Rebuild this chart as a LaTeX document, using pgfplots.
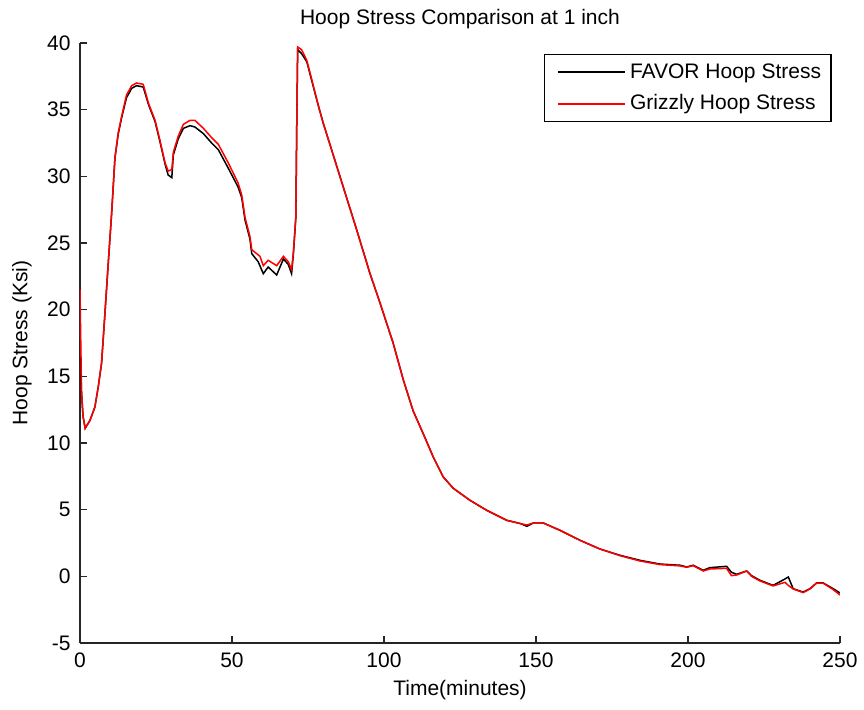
\documentclass[border=0pt]{standalone}
\usepackage{pgfplots}
\pgfplotsset{compat=1.18}
\usepackage{fontspec}
\setmainfont{Liberation Sans}
\definecolor{axgray}{HTML}{262626}

\pgfplotstableread{
x y
0 18.0
0.5 13.8
1.0 12.0
1.7 11.1
3.3 11.7
4.9 12.7
6.0 14.2
7.1 16.0
8.2 19.7
9.3 23.5
10.4 27.2
11.5 31.4
12.6 33.2
13.7 34.4
15.3 35.9
17.0 36.6
18.6 36.8
20.8 36.7
22.5 35.4
24.7 34.1
26.3 32.6
28.0 30.9
29.0 30.1
30.2 29.9
30.7 31.6
32.3 32.8
34.0 33.6
36.2 33.8
37.8 33.7
40.6 33.2
43.3 32.5
45.5 32.0
48.8 30.6
52.0 29.2
53.2 28.4
54.3 26.7
55.9 25.3
56.5 24.2
58.6 23.6
60.3 22.7
61.9 23.2
64.7 22.6
66.9 23.8
68.5 23.4
69.6 22.7
70.2 24.2
71.0 26.9
71.3 33.8
71.6 39.5
72.9 39.2
74.6 38.6
76.2 37.2
78.4 35.3
80.0 34.0
82.2 32.4
84.4 30.8
86.6 29.2
91.0 26.0
95.4 22.7
98.7 20.5
103.0 17.5
106.4 14.7
109.6 12.4
112.9 10.7
116.2 8.95
119.5 7.45
122.8 6.6
128.3 5.7
133.8 4.95
140.4 4.2
145.0 3.95
147.0 3.75
149.1 4.0
152.4 4.0
157.9 3.45
164.5 2.7
171.0 2.05
177.6 1.58
184.2 1.2
190.8 0.92
197.4 0.83
199.6 0.7
201.7 0.83
205.0 0.45
207.2 0.65
212.7 0.75
214.3 0.3
216.0 0.15
219.3 0.4
220.9 0.05
223.7 -0.3
228.0 -0.68
231.9 -0.2
233.0 -0.05
234.6 -0.93
237.9 -1.18
240.1 -0.93
242.3 -0.5
244.5 -0.5
247.8 -0.93
250.0 -1.25
}\favor

\pgfplotstableread{
x y
0 21.5
0.5 13.8
1.0 12.0
1.7 11.1
3.3 11.7
4.9 12.7
6.0 14.2
7.1 16.0
8.2 19.7
9.3 23.5
10.4 27.2
11.5 31.4
12.6 33.3
13.7 34.5
15.3 36.1
17.0 36.8
18.6 37.0
20.8 36.9
22.5 35.5
24.7 34.2
26.3 32.7
28.0 31.0
29.0 30.4
30.2 30.5
30.7 31.8
32.3 33.0
34.0 33.9
36.2 34.2
37.8 34.2
40.6 33.6
43.3 32.9
45.5 32.4
48.8 31.0
52.0 29.5
53.2 28.6
54.3 26.9
55.9 25.5
56.5 24.5
59.2 24.0
60.3 23.3
61.9 23.7
64.7 23.3
66.9 24.0
68.5 23.6
69.6 23.0
70.2 24.3
71.0 27.0
71.3 33.8
71.6 39.7
72.9 39.5
74.6 38.7
76.2 37.3
78.4 35.3
80.0 34.0
82.2 32.4
84.4 30.8
86.6 29.2
91.0 26.0
95.4 22.7
98.7 20.5
103.0 17.5
106.4 14.7
109.6 12.4
112.9 10.7
116.2 8.95
119.5 7.45
122.8 6.6
128.3 5.7
133.8 4.95
140.4 4.2
145.0 3.95
147.0 3.85
149.1 4.0
152.4 4.0
157.9 3.45
164.5 2.7
171.0 2.05
177.6 1.55
184.2 1.15
190.8 0.88
197.4 0.78
199.6 0.68
201.7 0.8
205.0 0.4
207.2 0.55
212.7 0.6
214.3 0.05
216.0 0.1
219.3 0.4
220.9 0.0
223.7 -0.35
228.0 -0.72
231.9 -0.45
233.0 -0.68
234.6 -0.95
237.9 -1.22
240.1 -0.95
242.3 -0.5
244.5 -0.52
247.8 -1.0
250.0 -1.4
}\grizzly

\begin{document}
{\fontsize{10.5}{12.6}\selectfont
\begin{tikzpicture}
\path[use as bounding box] (-40pt,-33.5pt) rectangle (392pt,321.5pt);
\begin{axis}[
  at={(0,0)}, anchor=south west,
  scale only axis, width=380pt, height=300pt,
  xmin=0, xmax=250, ymin=-5, ymax=40,
  xtick={0,50,...,250}, ytick={-5,0,...,40},
  axis x line=bottom, axis y line=left,
  axis line style={-, axgray, line width=0.6pt},
  tick style={axgray, line width=0.6pt},
  tick align=inside, major tick length=3.5pt,
  /pgf/number format/assume math mode=true,
  tick label style={font=\fontsize{10.5}{12.6}\selectfont, text=black},
  xticklabel style={yshift=-1pt},
  yticklabel style={xshift=-1pt},
  title={Hoop Stress Comparison at 1 inch},
  every axis title/.style={at={(axis description cs:0.5,1)}, anchor=center, yshift=12pt, font=\fontsize{10.5}{12.6}\selectfont},
  xlabel={Time(minutes)},
  every axis x label/.style={at={(axis description cs:0.5,0)}, anchor=center, yshift=-23.5pt, font=\fontsize{10.5}{12.6}\selectfont},
  ylabel={Hoop Stress (Ksi)},
  every axis y label/.style={at={(axis description cs:0,0.5)}, anchor=center, rotate=90, yshift=29pt, font=\fontsize{10.5}{12.6}\selectfont},
  legend style={at={(0.989,0.9817)}, anchor=north east, draw=black, line width=0.6pt,
    font=\fontsize{10.5}{12.6}\selectfont, inner xsep=3pt, inner ysep=2.5pt, row sep=2.5pt,
    /tikz/every even column/.append style={column sep=0pt}},
  legend cell align=left,
  legend image code/.code={\path (-3.5pt,0pt); \draw[#1, line width=1pt] (0pt,0pt) -- (33.5pt,0pt);},
]
\addplot[black, line width=0.75pt] table[x=x,y=y] {\favor};
\addlegendentry{FAVOR Hoop Stress}
\addplot[color=red, line width=0.75pt] table[x=x,y=y] {\grizzly};
\addlegendentry{Grizzly Hoop Stress}
\end{axis}
\end{tikzpicture}}
\end{document}
